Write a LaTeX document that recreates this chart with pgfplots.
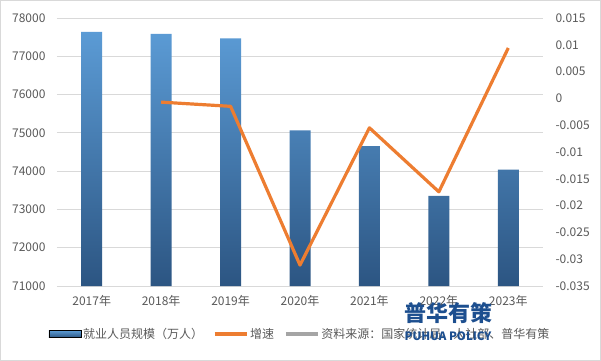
\documentclass[border=0pt]{standalone}
\usepackage{fontspec}
\setmainfont{Noto Sans CJK SC}
\usepackage{pgfplots}
\pgfplotsset{compat=1.18}
\definecolor{barTop}{HTML}{5B9BD5}
\definecolor{barBot}{HTML}{2C5582}
\definecolor{lineOr}{HTML}{ED7D31}
\definecolor{gridc}{HTML}{D9D9D9}
\definecolor{tickc}{HTML}{595959}
\definecolor{srcgray}{HTML}{A5A5A5}
\definecolor{wm}{HTML}{1D4F8F}
\begin{document}
\begin{tikzpicture}
\pgfplotsset{
  common/.style={
    scale only axis, width=486bp, height=268bp,
    at={(0,0)}, anchor=south west,
    xmin=-0.5, xmax=6.5,
    scaled y ticks=false, scaled x ticks=false,
    tick style={draw=none},
    axis line style={draw=none},
    ticklabel style={font=\fontsize{12bp}{14bp}\selectfont, text=tickc},
  }
}
\draw[draw=gridc, line width=1bp] (-56.5bp,-74.5bp) rectangle (543.5bp,285.5bp);
\begin{axis}[common,
  ymin=71000, ymax=78000,
  ytick={71000,72000,73000,74000,75000,76000,77000,78000},
  yticklabels={71000,72000,73000,74000,75000,76000,77000,78000},
  yticklabel style={xshift=-8bp},
  xtick={0,1,2,3,4,5,6},
  xticklabels={2017年,2018年,2019年,2020年,2021年,2022年,2023年},
  xticklabel style={yshift=-6bp},
  ymajorgrids, grid style={draw=gridc, line width=0.8bp},
]
\addplot[ybar, bar width=21bp, draw=none, top color=barTop, bottom color=barBot]
  coordinates {(0,77640) (1,77586) (2,77471) (3,75064) (4,74652) (5,73351) (6,74041)};
\end{axis}
\begin{axis}[common,
  ymin=-0.035, ymax=0.015,
  ytick={-0.035,-0.03,-0.025,-0.02,-0.015,-0.01,-0.005,0,0.005,0.01,0.015},
  yticklabels={-0.035,-0.03,-0.025,-0.02,-0.015,-0.01,-0.005,0,0.005,0.01,0.015},
  yticklabel pos=right,
  yticklabel style={xshift=9bp},
  xtick=\empty,
  legend style={at={(0.5,-0.179)}, anchor=center, draw=none, fill=none,
    legend columns=-1, font=\fontsize{12bp}{14bp}\selectfont, text=tickc,
    /tikz/every even column/.append style={column sep=8bp},
    legend cell align=left},
]
\addlegendimage{legend image code/.code={\fill[top color=barTop, bottom color=barBot] (0bp,-3.5bp) rectangle (32bp,3.5bp);}}
\addlegendentry{就业人员规模（万人）}
\addplot[lineOr, line width=3.2bp, line join=round,
  legend image code/.code={\draw[lineOr, line width=3.2bp] (0bp,0bp) -- (32bp,0bp);}]
  coordinates {(1,-0.000696) (2,-0.00148) (3,-0.0311) (4,-0.00549) (5,-0.01743) (6,0.00941)};
\addlegendentry{增速}
\addlegendimage{legend image code/.code={\draw[srcgray, line width=3.2bp] (0bp,0bp) -- (32bp,0bp);}}
\addlegendentry{资料来源：国家统计局、人社部、普华有策}
\end{axis}
\node[text=wm, font=\fontsize{22bp}{24bp}\selectfont\bfseries] at (391bp,-27bp) {普华有策};
\node[text=wm, font=\fontsize{11.5bp}{13bp}\selectfont\bfseries] at (391bp,-50bp) {PUHUA POLICY};
\end{tikzpicture}
\end{document}
